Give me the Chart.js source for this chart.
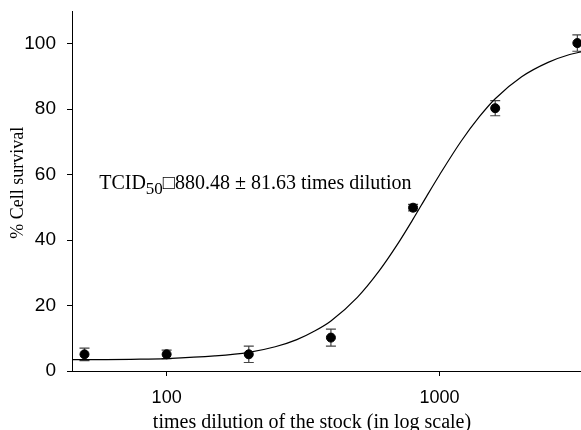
<!DOCTYPE html>
<html>
<head>
<meta charset="utf-8">
<script src="https://cdn.jsdelivr.net/npm/chart.js@4/dist/chart.umd.min.js"></script>
<style>
  html, body { margin: 0; padding: 0; background: #fff; }
  canvas { display: block; }
</style>
</head>
<body>
<canvas id="chart" width="581" height="430"></canvas>
<script>
// measured points (mean +/- error)
const dilutions = [50, 100, 200, 400, 800, 1600, 3200];
const survival = [5.1, 5.1, 5.1, 10.2, 49.9, 80.3, 100.2];
const survivalErr = [1.9, 1.3, 2.5, 2.6, 1.0, 2.3, 2.5];

// fitted curve
const fitDilution = [45, 60, 80, 100, 150, 200, 250, 300, 350, 400, 500, 600, 700, 800, 900, 1000, 1200, 1400, 1600, 2000, 2500, 3000, 3300];
const fitSurvival = [3.5, 3.5, 3.6, 3.8, 4.6, 5.7, 7.4, 9.6, 12.3, 15.3, 22.5, 30.5, 38.6, 46.4, 53.6, 59.9, 70.2, 77.7, 83.2, 89.9, 94.3, 96.7, 97.5];

const xTicks = [100, 1000];
const yTicks = [0, 20, 40, 60, 80, 100];

const serif = '"Liberation Serif", "Times New Roman", serif';
const sans = '"Liberation Sans", Arial, sans-serif';

// error bars under the points
const errorBars = {
  id: 'errorBars',
  beforeDatasetsDraw(chart) {
    const { ctx, scales: { x, y } } = chart;
    ctx.save();
    ctx.strokeStyle = '#444';
    ctx.lineWidth = 1.2;
    dilutions.forEach((d, i) => {
      const px = x.getPixelForValue(d);
      const top = y.getPixelForValue(survival[i] + survivalErr[i]);
      const bot = y.getPixelForValue(survival[i] - survivalErr[i]);
      ctx.beginPath();
      ctx.moveTo(px, top); ctx.lineTo(px, bot);
      ctx.moveTo(px - 5, top); ctx.lineTo(px + 5, top);
      ctx.moveTo(px - 5, bot); ctx.lineTo(px + 5, bot);
      ctx.stroke();
    });
    ctx.restore();
  }
};

// TCID50 label and the two axis titles (both sit a little off the axis middle)
const labels = {
  id: 'labels',
  afterDraw(chart) {
    const { ctx, scales: { x, y } } = chart;
    let px = x.getPixelForValue(56.6);
    const py = y.getPixelForValue(55.5);
    ctx.save();
    ctx.fillStyle = '#000';
    ctx.textBaseline = 'alphabetic';
    ctx.font = '20px ' + serif;
    ctx.fillText('TCID', px, py);
    px += ctx.measureText('TCID').width;
    ctx.font = '17px ' + serif;
    ctx.fillText('50', px, py + 5);
    px += ctx.measureText('50').width;
    ctx.font = '20px ' + serif;
    ctx.fillText('\u25A1880.48 \u00B1 81.63 times dilution', px, py);

    ctx.textAlign = 'center';
    ctx.fillText('times dilution of the stock (in log scale)', 312, 428);

    ctx.translate(18, y.getPixelForValue(57.5));
    ctx.rotate(-Math.PI / 2);
    ctx.font = '18px ' + serif;
    ctx.textBaseline = 'middle';
    ctx.fillText('% Cell survival', 0, 0);
    ctx.restore();
  }
};

new Chart(document.getElementById('chart'), {
  data: {
    datasets: [
      {
        type: 'scatter',
        data: dilutions.map((d, i) => ({ x: d, y: survival[i] })),
        backgroundColor: '#000',
        borderColor: '#000',
        pointRadius: 4.5,
        pointHoverRadius: 4.5,
        order: 0
      },
      {
        type: 'line',
        data: fitDilution.map((d, i) => ({ x: d, y: fitSurvival[i] })),
        borderColor: '#000',
        borderWidth: 1.2,
        pointRadius: 0,
        fill: false,
        cubicInterpolationMode: 'monotone',
        order: 1
      }
    ]
  },
  options: {
    responsive: false,
    devicePixelRatio: 1,
    animation: false,
    events: [],
    layout: { autoPadding: false, padding: { top: 11, right: 0, left: 0, bottom: 0 } },
    plugins: { legend: { display: false }, tooltip: { enabled: false } },
    scales: {
      x: {
        type: 'logarithmic',
        min: 45,
        max: 3300,
        afterBuildTicks: (scale) => { scale.ticks = xTicks.map(v => ({ value: v })); },
        afterFit: (scale) => {
          scale.height = 59;
          scale.paddingLeft = 0;
          scale.paddingRight = 0;
        },
        ticks: {
          color: '#000',
          font: { family: sans, size: 18 },
          padding: 11,
          maxRotation: 0,
          callback: (v) => String(v)
        },
        grid: { drawOnChartArea: false, drawTicks: true, tickLength: 5, color: '#000' },
        border: { display: true, color: '#000', width: 1 }
      },
      y: {
        min: 0,
        max: 110,
        afterBuildTicks: (scale) => { scale.ticks = yTicks.map(v => ({ value: v })); },
        afterFit: (scale) => {
          scale.width = 72;
          scale.paddingTop = 0;
          scale.paddingBottom = 0;
        },
        ticks: {
          color: '#000',
          font: { family: sans, size: 19 },
          padding: 11
        },
        grid: { drawOnChartArea: false, drawTicks: true, tickLength: 5, color: '#000' },
        border: { display: true, color: '#000', width: 1 }
      }
    }
  },
  plugins: [errorBars, labels]
});
</script>
</body>
</html>
